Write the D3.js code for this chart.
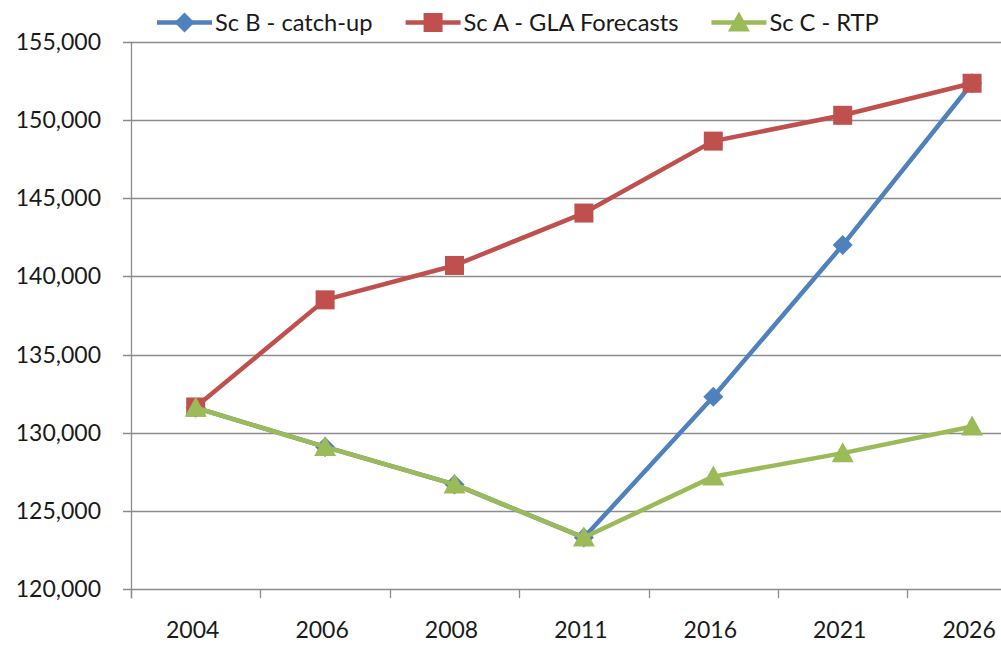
<!DOCTYPE html>
<html>
<head>
<meta charset="utf-8">
<script src="https://cdn.jsdelivr.net/npm/d3@7"></script>
<style>
  body { margin: 0; background: #fff; }
  svg { display: block; font-family: Lato, "Open Sans", sans-serif; }
</style>
</head>
<body>
<svg width="1001" height="645"></svg>
<script>
// data
var years = ["2004", "2006", "2008", "2011", "2016", "2021", "2026"]
var scB = [131600, 129100, 126700, 123300, 132300, 142000, 152350]
var scA = [131650, 138500, 140700, 144050, 148650, 150300, 152350]
var scC = [131600, 129100, 126700, 123300, 127200, 128700, 130400]
var yTicks = [120000, 125000, 130000, 135000, 140000, 145000, 150000, 155000]

var series = [
  {name: "Sc B - catch-up", values: scB, color: "#4F81BD", marker: "diamond"},
  {name: "Sc A - GLA Forecasts", values: scA, color: "#C0504D", marker: "square"},
  {name: "Sc C - RTP", values: scC, color: "#9BBB59", marker: "triangle"}
]

var svg = d3.select("svg")
var plotLeft = 131, plotTop = 41.8, plotBottom = 589.2
var band = 129.4
var plotRight = plotLeft + band * years.length   // runs past the right edge, as in the original

var x = d3.scaleBand().domain(years).range([plotLeft, plotRight])
var y = d3.scaleLinear().domain([120000, 155000]).range([plotBottom, plotTop])

// gridlines
svg.append("g")
  .selectAll("line")
  .data(yTicks)
  .enter()
  .append("line")
    .attr("x1", plotLeft - 8)
    .attr("x2", plotRight)
    .attr("y1", function(d){ return Math.round(y(d)) + 0.5 })
    .attr("y2", function(d){ return Math.round(y(d)) + 0.5 })
    .attr("stroke", "#8c8c8c")
    .attr("stroke-width", 1.3)

// y axis line
svg.append("line")
  .attr("x1", plotLeft + 0.5).attr("x2", plotLeft + 0.5)
  .attr("y1", plotTop).attr("y2", plotBottom + 9)
  .attr("stroke", "#8c8c8c")
  .attr("stroke-width", 1.3)

// y labels
var fmt = d3.format(",")
svg.append("g")
  .selectAll("text")
  .data(yTicks)
  .enter()
  .append("text")
    .attr("x", 101)
    .attr("y", function(d){ return y(d) })
    .attr("dy", "0.35em")
    .attr("text-anchor", "end")
    .attr("font-size", 23)
    .attr("fill", "#1a1a1a")
    .text(function(d){ return fmt(d) })

// x ticks between categories
var bounds = years.map(function(d){ return x(d) }).concat([plotRight])
svg.append("g")
  .selectAll("line")
  .data(bounds)
  .enter()
  .append("line")
    .attr("x1", function(d){ return Math.round(d) + 0.5 })
    .attr("x2", function(d){ return Math.round(d) + 0.5 })
    .attr("y1", plotBottom)
    .attr("y2", plotBottom + 9)
    .attr("stroke", "#8c8c8c")
    .attr("stroke-width", 1.3)

// x labels
svg.append("g")
  .selectAll("text")
  .data(years)
  .enter()
  .append("text")
    .attr("x", function(d){ return x(d) + x.bandwidth() / 2 - 3 })
    .attr("y", 638)
    .attr("text-anchor", "middle")
    .attr("font-size", 23)
    .attr("fill", "#1a1a1a")
    .text(function(d){ return d })

var cx = function(d, i){ return x(years[i]) + x.bandwidth() / 2 }

function markerPath(type) {
  if (type == "diamond") return "M0,-10L10,0L0,10L-10,0Z"
  if (type == "square") return "M-9.5,-9.5H9.5V9.5H-9.5Z"
  return "M0,-11L11,9L-11,9Z"
}

var line = d3.line()
  .x(function(d, i){ return cx(d, i) })
  .y(function(d){ return y(d) })

var lines = svg.selectAll("g.series")
  .data(series)
  .enter()
  .append("g")
    .attr("class", "series")

lines.append("path")
  .attr("d", function(s){ return line(s.values) })
  .attr("fill", "none")
  .attr("stroke", function(s){ return s.color })
  .attr("stroke-width", 4.5)
  .attr("stroke-linejoin", "round")

lines.each(function(s){
  d3.select(this).selectAll("path.mk")
    .data(s.values)
    .enter()
    .append("path")
      .attr("class", "mk")
      .attr("d", markerPath(s.marker))
      .attr("fill", s.color)
      .attr("transform", function(d, i){
        return `translate(${cx(d, i)}, ${y(d)})`
      })
})

// legend
var lx = 157, ly = 22.5
series.forEach(function(s){
  var g = svg.append("g").attr("transform", `translate(${lx}, ${ly})`)
  g.append("line")
    .attr("x1", 0).attr("x2", 55)
    .attr("stroke", s.color)
    .attr("stroke-width", 4.5)
  g.append("path")
    .attr("d", markerPath(s.marker))
    .attr("fill", s.color)
    .attr("transform", "translate(27.5,0)")
  var t = g.append("text")
    .attr("x", 58)
    .attr("dy", "0.35em")
    .attr("font-size", 23.7)
    .attr("fill", "#1a1a1a")
    .text(s.name)
  lx += 58 + t.node().getComputedTextLength() + 33
})
</script>
</body>
</html>
